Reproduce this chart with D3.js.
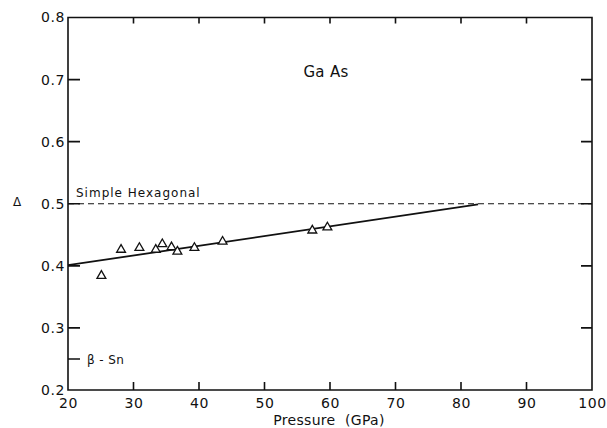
<!DOCTYPE html>
<html>
<head>
<meta charset="utf-8">
<script src="https://cdn.jsdelivr.net/npm/d3@7"></script>
<style>
  html, body { margin: 0; padding: 0; background: #fff; }
  svg text { font-family: "DejaVu Sans", sans-serif; fill: #111; }
</style>
</head>
<body>
<svg id="chart" width="607" height="428"></svg>
<script>
// Measured pressure (GPa) and Δ for GaAs
const pressure = [25.1, 28.1, 30.9, 33.4, 34.4, 35.8, 36.7, 39.3, 43.6, 57.3, 59.6];
const delta    = [0.384, 0.426, 0.429, 0.426, 0.435, 0.430, 0.423, 0.429, 0.439, 0.457, 0.462];

// Linear fit endpoints (pressure, Δ)
const fitPressure = [20, 82.6];
const fitDelta    = [0.401, 0.499];

// Reference structures
const refLabels = ["Simple Hexagonal", "β - Sn"];
const refValues = [0.5, 0.25];

const xTicks = [20, 30, 40, 50, 60, 70, 80, 90, 100];
const yTicks = [0.2, 0.3, 0.4, 0.5, 0.6, 0.7, 0.8];

const svg = d3.select("#chart");
const L = 68, R = 592, T = 17.5, B = 390;

const x = d3.scaleLinear().domain([20, 100]).range([L, R]);
const y = d3.scaleLinear().domain([0.2, 0.8]).range([B, T]);

const fmtY = d3.format(".1f");
const ink = "#111";

// Frame with inward tick marks on all four sides, as one outline path
const fp = d3.path();
fp.moveTo(L, T); fp.lineTo(R, T); fp.lineTo(R, B); fp.lineTo(L, B); fp.closePath();
xTicks.slice(1, -1).forEach(v => {
  fp.moveTo(x(v), B); fp.lineTo(x(v), B - 8);
  fp.moveTo(x(v), T); fp.lineTo(x(v), T + 6);
});
yTicks.slice(1, -1).forEach(v => {
  fp.moveTo(L, y(v)); fp.lineTo(L + 12, y(v));
  fp.moveTo(R, y(v)); fp.lineTo(R - 11, y(v));
});
fp.moveTo(L, y(refValues[1])); fp.lineTo(L + 12, y(refValues[1]));
svg.append("path")
  .attr("d", fp.toString())
  .attr("fill", "none").attr("stroke", ink).attr("stroke-width", 1.6);

// Tick labels via d3 axes (domain and default tick lines removed)
const axBottom = svg.append("g").attr("transform", `translate(0,${B})`)
  .call(d3.axisBottom(x).tickValues(xTicks).tickSize(0).tickPadding(8));
const axLeft = svg.append("g").attr("transform", `translate(${L},0)`)
  .call(d3.axisLeft(y).tickValues(yTicks).tickSize(0).tickPadding(3).tickFormat(fmtY));

[axBottom, axLeft].forEach(g => {
  g.select(".domain").remove();
  g.selectAll(".tick line").remove();
  g.selectAll(".tick text")
    .attr("font-size", 14).attr("letter-spacing", "0.6px").attr("fill", ink);
});

// Dashed simple-hexagonal level
svg.append("line")
  .attr("x1", x(20)).attr("x2", x(100))
  .attr("y1", y(refValues[0])).attr("y2", y(refValues[0]))
  .attr("stroke", ink).attr("stroke-width", 1).attr("stroke-dasharray", "6,4");

svg.append("text")
  .attr("x", 76).attr("y", y(refValues[0]) - 7)
  .attr("font-size", 12).attr("letter-spacing", "1px")
  .text(refLabels[0]);

svg.append("text")
  .attr("x", 87).attr("y", y(refValues[1]) + 5)
  .attr("font-size", 12).attr("letter-spacing", "0.4px")
  .text(refLabels[1]);

// Fit line
svg.append("line")
  .attr("x1", x(fitPressure[0])).attr("y1", y(fitDelta[0]))
  .attr("x2", x(fitPressure[1])).attr("y2", y(fitDelta[1]))
  .attr("stroke", ink).attr("stroke-width", 1.8);

// Data triangles
const tri = d3.symbol().type(d3.symbolTriangle).size(34);
svg.append("g").selectAll("path")
  .data(pressure.map((p, i) => [p, delta[i]]))
  .join("path")
  .attr("d", tri)
  .attr("transform", d => `translate(${x(d[0])},${y(d[1])})`)
  .attr("fill", "#fff").attr("stroke", ink).attr("stroke-width", 1.3);

// Titles
svg.append("text")
  .attr("x", 326).attr("y", 77).attr("text-anchor", "middle")
  .attr("font-size", 15).attr("letter-spacing", "0.3px")
  .text("Ga As");

svg.append("text")
  .attr("x", 329).attr("y", 425).attr("text-anchor", "middle")
  .attr("font-size", 14).attr("letter-spacing", "0.3px")
  .style("white-space", "pre")
  .text("Pressure  (GPa)");

svg.append("text")
  .attr("x", 17).attr("y", 206).attr("text-anchor", "middle")
  .attr("font-size", 12)
  .text("Δ");
</script>
</body>
</html>
